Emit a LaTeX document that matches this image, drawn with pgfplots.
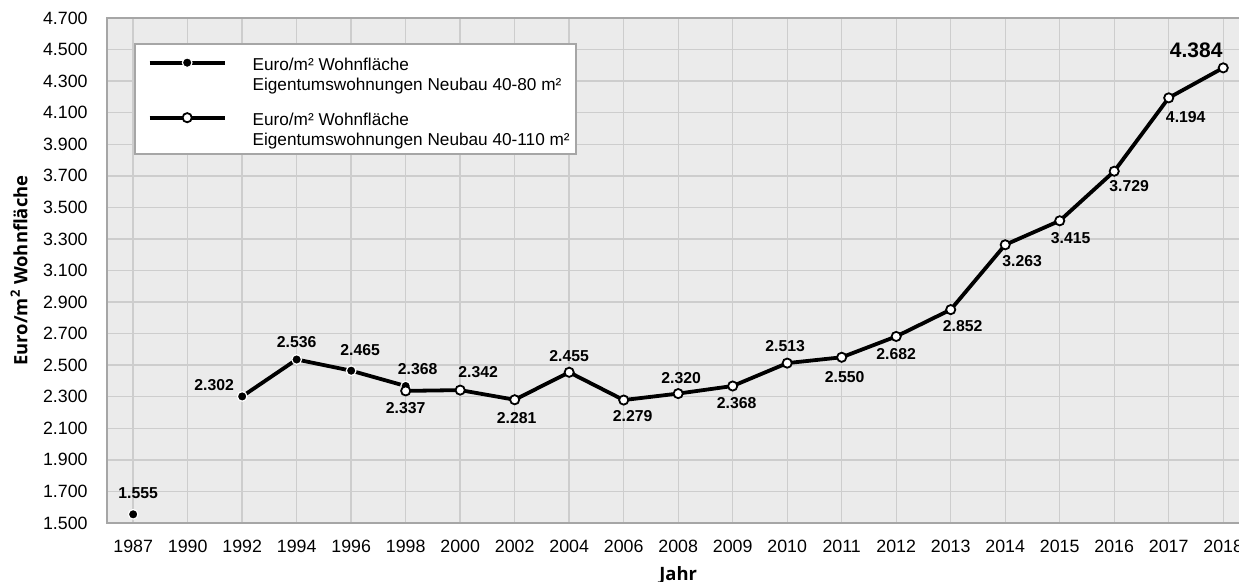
\documentclass[border=0pt]{standalone}
\usepackage{fontspec}
\setmainfont{Liberation Sans}
\newfontfamily\labfont{Open Sans}
\usepackage{pgfplots}
\pgfplotsset{compat=1.18}
\definecolor{bgcol}{HTML}{EBEBEB}
\definecolor{gridcol}{HTML}{CDCDCD}
\definecolor{framecol}{HTML}{A6A6A6}
\begin{document}
\begin{tikzpicture}
\begin{axis}[
  scale only axis,
  width=571.2pt, height=252.5pt,
  xmin=-0.48, xmax=20.48,
  ymin=1500, ymax=4700,
  xtick={0,...,20},
  xticklabels={1987,1990,1992,1994,1996,1998,2000,2002,2004,2006,2008,2009,2010,2011,2012,2013,2014,2015,2016,2017,2018},
  ytick={1500,1700,...,4700},
  /pgf/number format/1000 sep={.},
  /pgf/number format/assume math mode=true,
  tick style={draw=none}, major tick length=0pt,
  grid=major, grid style={gridcol, line width=0.7pt},
  axis line style={framecol, line width=1pt},
  axis background/.style={fill=bgcol},
  tick label style={font=\fontsize{8.9}{10}\selectfont},
  yticklabel style={inner sep=0pt, xshift=-9.5pt},
  xticklabel style={inner sep=0pt, yshift=-8.5pt},
  xlabel={\labfont\bfseries Jahr}, ylabel={\labfont\bfseries Euro/m\textsuperscript{2} Wohnfläche},
  every axis x label/.style={at={(axis description cs:0.5,-0.1129)}, anchor=base},
  every axis y label/.style={at={(axis description cs:-0.0770,0.5)}, rotate=90, anchor=center},
  xlabel style={font=\labfont\bfseries\fontsize{9.2}{11}\selectfont},
  ylabel style={font=\labfont\bfseries\fontsize{9.2}{11}\selectfont},
  legend style={at={(0,1)}, anchor=north west, xshift=13.5pt, yshift=-12.5pt,
    draw=framecol, line width=0.8pt, fill=white, font=\fontsize{8.6}{10}\selectfont,
    inner xsep=3pt, inner ysep=2.5pt, row sep=5pt, column sep=13pt, nodes={inner sep=0pt}},
  legend cell align=left,
  legend image code/.code={
    \path (-3.5pt,0) (0pt,0);
    \draw[mark repeat=2, mark phase=2] plot coordinates {(0pt,4.3pt) (18.75pt,4.3pt) (37.5pt,4.3pt)};
  },
  unbounded coords=jump,
]
\addplot[black, line width=1.9pt, mark=*, mark size=2.4pt,
  mark options={fill=black, draw=white, line width=0.6pt, solid}]
  coordinates {(0,1555) (1,nan) (2,2302) (3,2536) (4,2465) (5,2368)};
\addlegendentry{\fontsize{8.6}{10}\selectfont\begin{tabular}[b]{@{}l@{}}\rule{0pt}{11pt}Euro/m² Wohnfläche\\Eigentumswohnungen Neubau 40-80 m²\end{tabular}}
\addplot[black, line width=1.9pt, mark=*, mark size=2.3pt,
  mark options={fill=white, draw=black, line width=0.9pt, solid}]
  coordinates {(5,2337) (6,2342) (7,2281) (8,2455) (9,2279) (10,2320) (11,2368) (12,2513) (13,2550) (14,2682) (15,2852) (16,3263) (17,3415) (18,3729) (19,4194) (20,4384)};
\addlegendentry{\fontsize{8.6}{10}\selectfont\begin{tabular}[b]{@{}l@{}}\rule{0pt}{11pt}Euro/m² Wohnfläche\\Eigentumswohnungen Neubau 40-110 m²\end{tabular}}
\addplot[draw=none, mark=none, forget plot, nodes near coords, point meta=explicit symbolic,
  visualization depends on={\thisrow{dx} \as \dx},
  visualization depends on={\thisrow{dy} \as \dy},
  every node near coord/.style={anchor=center, inner sep=0pt, xshift=\dx pt, yshift=\dy pt,
    font=\bfseries\fontsize{7.9}{9}\selectfont, text=black}]
  table[x=x, y=y, meta=lab] {
x y dx dy lab
0 1555 2.5 10.5 1.555
2 2302 -14 5.5 2.302
3 2536 0 8.5 2.536
4 2465 4.5 10.5 2.465
5 2368 6 8.5 2.368
5 2337 0 -8.5 2.337
6 2342 9 9 2.342
7 2281 1 -9 2.281
8 2455 0 8 2.455
9 2279 4.5 -8 2.279
10 2320 1.5 8 2.320
11 2368 2 -8.5 2.368
12 2513 -1 8.5 2.513
13 2550 1.5 -10 2.550
14 2682 0 -9 2.682
15 2852 6 -8 2.852
16 3263 8.5 -8 3.263
17 3415 5.5 -8.5 3.415
18 3729 7.5 -7.5 3.729
19 4194 8.5 -9.5 4.194
};
\addplot[draw=none, mark=none, forget plot, nodes near coords, point meta=explicit symbolic,
  every node near coord/.style={anchor=center, inner sep=0pt, xshift=-13.5pt, yshift=9pt,
    font=\bfseries\fontsize{10.5}{12}\selectfont, text=black}]
  table[x=x, y=y, meta=lab] {
x y lab
20 4384 4.384
};
\end{axis}
\pgfresetboundingbox
\path[use as bounding box] ([shift={(-53.5pt,-29.5pt)}]current axis.south west) rectangle ([shift={(566pt,261.5pt)}]current axis.south west);
\end{tikzpicture}
\end{document}
